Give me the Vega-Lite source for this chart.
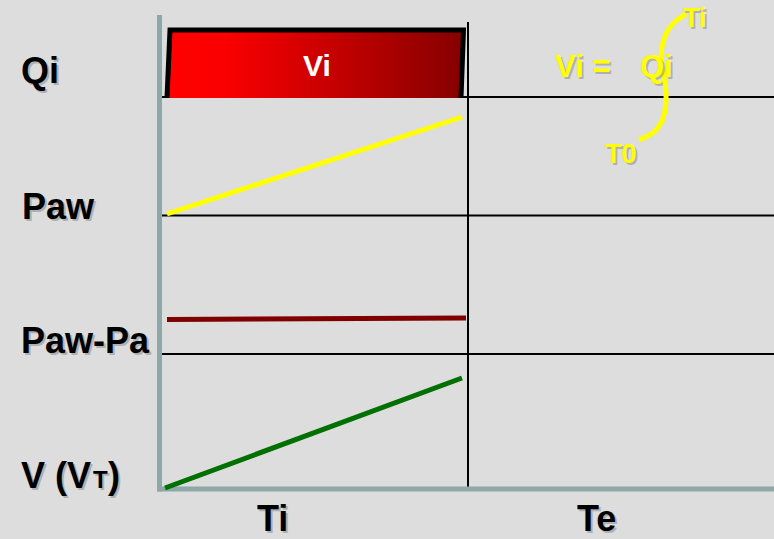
{
  "$schema": "https://vega.github.io/schema/vega-lite/v6.json",
  "width": 774,
  "height": 539,
  "padding": 0,
  "autosize": "none",
  "background": "#dddddd",
  "config": {"view": {"stroke": null}},
  "datasets": {
    "axisLines": [
      {"id": "v", "o": 1, "x": 159.5, "y": 15},
      {"id": "v", "o": 2, "x": 159.5, "y": 491.5},
      {"id": "h", "o": 1, "x": 157, "y": 489},
      {"id": "h", "o": 2, "x": 774, "y": 489}
    ],
    "gridLines": [
      {"id": "h1", "o": 1, "x": 158, "y": 97},
      {"id": "h1", "o": 2, "x": 774, "y": 97},
      {"id": "h2", "o": 1, "x": 158, "y": 215.5},
      {"id": "h2", "o": 2, "x": 774, "y": 215.5},
      {"id": "h3", "o": 1, "x": 158, "y": 354},
      {"id": "h3", "o": 2, "x": 774, "y": 354},
      {"id": "v1", "o": 1, "x": 468, "y": 22},
      {"id": "v1", "o": 2, "x": 468, "y": 488}
    ],
    "box": [{"x": 168, "x2": 463, "y": 30, "y2": 98}],
    "frame": [
      {"id": "f", "o": 1, "x": 167, "y": 98},
      {"id": "f", "o": 2, "x": 170, "y": 30},
      {"id": "f", "o": 3, "x": 463.5, "y": 30},
      {"id": "f", "o": 4, "x": 461, "y": 98}
    ],
    "paw": [
      {"o": 1, "x": 167, "y": 214},
      {"o": 2, "x": 462, "y": 117}
    ],
    "pawpa": [
      {"o": 1, "x": 167, "y": 319.5},
      {"o": 2, "x": 466, "y": 318}
    ],
    "vol": [
      {"o": 1, "x": 165, "y": 488},
      {"o": 2, "x": 462, "y": 378}
    ],
    "integral": [
      {"o": 1, "x": 639, "y": 140},
      {"o": 2, "x": 655, "y": 131},
      {"o": 3, "x": 663, "y": 118},
      {"o": 4, "x": 666, "y": 100},
      {"o": 5, "x": 665, "y": 84},
      {"o": 6, "x": 662, "y": 70},
      {"o": 7, "x": 661, "y": 56},
      {"o": 8, "x": 663, "y": 42},
      {"o": 9, "x": 668, "y": 30},
      {"o": 10, "x": 676, "y": 21},
      {"o": 11, "x": 686, "y": 14}
    ],
    "blackText": [
      {"t": "Qi", "x": 21, "y": 83},
      {"t": "Paw", "x": 22, "y": 219},
      {"t": "Paw-Pa", "x": 21, "y": 353},
      {"t": "V (V", "x": 21, "y": 488},
      {"t": ")", "x": 108, "y": 488},
      {"t": "Ti", "x": 257, "y": 530.5},
      {"t": "Te", "x": 577, "y": 530.5}
    ],
    "smallT": [{"t": "T", "x": 93, "y": 488}],
    "whiteText": [{"t": "Vi", "x": 303, "y": 76}],
    "yellowBig": [
      {"t": "Vi =", "x": 555, "y": 77},
      {"t": "Qi", "x": 640, "y": 77}
    ],
    "yellowSmall": [
      {"t": "Ti", "x": 683, "y": 27},
      {"t": "T0", "x": 605, "y": 163}
    ]
  },
  "encoding": {
    "x": {"field": "x", "type": "quantitative", "scale": {"domain": [0, 774], "nice": false, "zero": false}, "axis": null},
    "y": {"field": "y", "type": "quantitative", "scale": {"domain": [539, 0], "nice": false, "zero": false}, "axis": null}
  },
  "layer": [
    {
      "data": {"name": "gridLines"},
      "mark": {"type": "line", "color": "#000000", "strokeWidth": 2, "strokeCap": "butt"},
      "encoding": {"detail": {"field": "id"}, "order": {"field": "o"}}
    },
    {
      "data": {"name": "box"},
      "mark": {
        "type": "rect",
        "color": {
          "gradient": "linear",
          "x1": 0, "y1": 0, "x2": 1, "y2": 0,
          "stops": [
            {"offset": 0, "color": "#ff0000"},
            {"offset": 0.2, "color": "#fa0000"},
            {"offset": 1, "color": "#860000"}
          ]
        }
      },
      "encoding": {
        "x2": {"field": "x2"},
        "y2": {"field": "y2"}
      }
    },
    {
      "data": {"name": "frame"},
      "mark": {"type": "line", "color": "#000000", "strokeWidth": 5, "strokeJoin": "miter", "strokeCap": "butt"},
      "encoding": {"order": {"field": "o"}}
    },
    {
      "data": {"name": "axisLines"},
      "mark": {"type": "line", "color": "#8ea7a8", "strokeWidth": 5, "strokeCap": "butt"},
      "encoding": {"detail": {"field": "id"}, "order": {"field": "o"}}
    },
    {
      "data": {"name": "paw"},
      "mark": {"type": "line", "color": "#ffff00", "strokeWidth": 5, "strokeCap": "butt"},
      "encoding": {"order": {"field": "o"}}
    },
    {
      "data": {"name": "pawpa"},
      "mark": {"type": "line", "color": "#800000", "strokeWidth": 5, "strokeCap": "butt"},
      "encoding": {"order": {"field": "o"}}
    },
    {
      "data": {"name": "vol"},
      "mark": {"type": "line", "color": "#007000", "strokeWidth": 5, "strokeCap": "butt"},
      "encoding": {"order": {"field": "o"}}
    },
    {
      "data": {"name": "integral"},
      "mark": {"type": "line", "color": "#ffff00", "strokeWidth": 5, "interpolate": "catmull-rom", "strokeCap": "butt"},
      "encoding": {"order": {"field": "o"}}
    },
    {
      "data": {"name": "blackText"},
      "mark": {"type": "text", "align": "left", "baseline": "alphabetic", "font": "Liberation Sans", "fontWeight": "bold", "fontSize": 36, "color": "#7a7a7a", "opacity": 0.45, "dx": 2, "dy": 2},
      "encoding": {"text": {"field": "t"}}
    },
    {
      "data": {"name": "blackText"},
      "mark": {"type": "text", "align": "left", "baseline": "alphabetic", "font": "Liberation Sans", "fontWeight": "bold", "fontSize": 36, "color": "#000000"},
      "encoding": {"text": {"field": "t"}}
    },
    {
      "data": {"name": "smallT"},
      "mark": {"type": "text", "align": "left", "baseline": "alphabetic", "font": "Liberation Sans", "fontWeight": "bold", "fontSize": 24, "color": "#7a7a7a", "opacity": 0.45, "dx": 2, "dy": 2},
      "encoding": {"text": {"field": "t"}}
    },
    {
      "data": {"name": "smallT"},
      "mark": {"type": "text", "align": "left", "baseline": "alphabetic", "font": "Liberation Sans", "fontWeight": "bold", "fontSize": 24, "color": "#000000"},
      "encoding": {"text": {"field": "t"}}
    },
    {
      "data": {"name": "whiteText"},
      "mark": {"type": "text", "align": "left", "baseline": "alphabetic", "font": "Liberation Sans", "fontWeight": "bold", "fontSize": 30, "color": "#ffffff"},
      "encoding": {"text": {"field": "t"}}
    },
    {
      "data": {"name": "yellowBig"},
      "mark": {"type": "text", "align": "left", "baseline": "alphabetic", "font": "Liberation Sans", "fontWeight": "bold", "fontSize": 31, "color": "#7a7a7a", "opacity": 0.45, "dx": 2, "dy": 2},
      "encoding": {"text": {"field": "t"}}
    },
    {
      "data": {"name": "yellowBig"},
      "mark": {"type": "text", "align": "left", "baseline": "alphabetic", "font": "Liberation Sans", "fontWeight": "bold", "fontSize": 31, "color": "#ffff00"},
      "encoding": {"text": {"field": "t"}}
    },
    {
      "data": {"name": "yellowSmall"},
      "mark": {"type": "text", "align": "left", "baseline": "alphabetic", "font": "Liberation Sans", "fontWeight": "bold", "fontSize": 27, "color": "#7a7a7a", "opacity": 0.45, "dx": 2, "dy": 2},
      "encoding": {"text": {"field": "t"}}
    },
    {
      "data": {"name": "yellowSmall"},
      "mark": {"type": "text", "align": "left", "baseline": "alphabetic", "font": "Liberation Sans", "fontWeight": "bold", "fontSize": 27, "color": "#ffff00"},
      "encoding": {"text": {"field": "t"}}
    }
  ]
}
